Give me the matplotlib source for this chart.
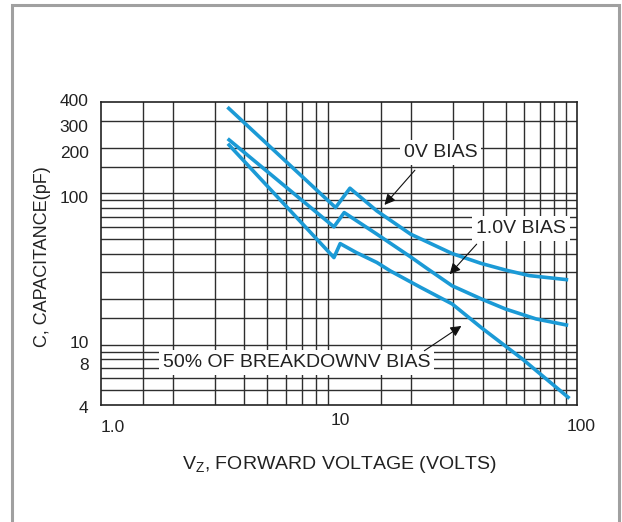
import matplotlib
matplotlib.use('Agg')
import numpy as np
import matplotlib.pyplot as plt
from matplotlib.patches import Rectangle
from matplotlib.transforms import ScaledTranslation

plt.rcParams['font.family'] = ['Liberation Sans', 'DejaVu Sans']

# capacitance curves (VZ in volts, C in pF)
vz_0v = [3.44, 9.66, 11.1, 14.4, 19.95, 29.8, 39.5, 50.0, 62.8, 90.0]
c_0v = [363, 80.4, 107.9, 76.4, 53.7, 40.0, 34.4, 31.1, 28.6, 26.9]
vz_1v = [3.45, 9.51, 10.5, 14.4, 19.95, 23.5, 29.8, 39.7, 50.0, 67.1, 90.0]
c_1v = [225, 60.0, 74.5, 53.7, 38.0, 31.7, 24.5, 20.0, 17.2, 14.8, 13.5]
vz_50 = [3.45, 9.51, 10.1, 11.8, 14.4, 16.4, 22.0, 29.8, 39.7, 58.8, 91.5]
c_50 = [208, 37.6, 46.5, 40.6, 34.9, 30.7, 23.9, 18.6, 12.9, 8.05, 4.5]

x_ticks = [1, 10, 100]
x_tick_labels = ['1.0', '10', '100']
x_grid = [1.5, 2, 3, 4, 5, 6, 7, 8, 9, 15, 20, 30, 40, 50, 60, 70, 80, 90]
y_ticks = [4, 8, 10, 100, 200, 300, 400]
y_tick_labels = ['4', '8', '10', '100', '200', '300', '400']
y_grid = [5, 6, 7, 8, 9, 10, 15, 20, 30, 40, 50, 60, 70, 80, 90, 100, 150, 200, 300]

blue = '#1b9ad6'
grid_c = '#2e2e2e'
text_c = '#222222'

fig = plt.figure(figsize=(6.22, 5.22), dpi=100)
ax = fig.add_axes([0.1624, 0.2241, 0.7657, 0.5805])
ax.set_xscale('log')
ax.set_yscale('log')
ax.set_xlim(1, 100)
ax.set_ylim(4, 400)

for v in x_grid:
    ax.axvline(v, color=grid_c, lw=1.0, zorder=1)
for v in y_grid:
    ax.axhline(v, color=grid_c, lw=1.0, zorder=1)

ax.plot(vz_0v, c_0v, color=blue, lw=2.6, zorder=3)
ax.plot(vz_1v, c_1v, color=blue, lw=2.6, zorder=3)
ax.plot(vz_50, c_50, color=blue, lw=2.6, zorder=3)

ax.xaxis.set_minor_locator(matplotlib.ticker.NullLocator())
ax.yaxis.set_minor_locator(matplotlib.ticker.NullLocator())
ax.set_xticks(x_ticks)
ax.set_xticklabels(x_tick_labels)
ax.set_yticks(y_ticks)
ax.set_yticklabels(y_tick_labels)
ax.tick_params(length=0, labelsize=12.5, colors=text_c)
ax.tick_params(axis='x', pad=6)
ax.tick_params(axis='y', pad=9)

# nudge tick labels like the original (inches)
xshifts = [(0.12, -0.07), (0.01, 0.0), (0.04, -0.06)]
for lab, (dx, dy) in zip(ax.get_xticklabels(), xshifts):
    lab.set_transform(lab.get_transform() + ScaledTranslation(dx, dy, fig.dpi_scale_trans))
yshifts = [-0.02, -0.05, 0.03, -0.04, -0.04, -0.05, 0.02]
for lab, dy in zip(ax.get_yticklabels(), yshifts):
    lab.set_transform(lab.get_transform() + ScaledTranslation(0, dy, fig.dpi_scale_trans))

for s in ax.spines.values():
    s.set_color(text_c)
    s.set_linewidth(1.2)

ax.set_ylabel('C, CAPACITANCE(pF)', fontsize=13, color=text_c)
ax.yaxis.set_label_coords(-0.106, 0.49)
ax.set_xlabel(r'V$_\mathregular{Z}$, FORWARD VOLTAGE (VOLTS)', fontsize=14, color=text_c)
ax.xaxis.set_label_coords(0.5, -0.16)

box = dict(boxstyle='square,pad=0.2', fc='white', ec='none')
ax.text(26.7, 185, '0V BIAS', fontsize=14, ha='center', va='center', bbox=box, zorder=4, color=text_c)
ax.text(58, 58.4, '1.0V BIAS', fontsize=14, ha='center', va='center', bbox=box, zorder=4, color=text_c)
ax.text(6.62, 7.64, '50% OF BREAKDOWNV BIAS', fontsize=14, ha='center', va='center', bbox=box, zorder=4, color=text_c)

arrow = dict(arrowstyle='-|>', color='#111111', lw=0.8, mutation_scale=16, shrinkA=0, shrinkB=0)
ax.annotate('', xy=(15.5, 83.7), xytext=(20.8, 141.8), arrowprops=arrow, zorder=5)
ax.annotate('', xy=(29.1, 29.2), xytext=(37.8, 46.1), arrowprops=arrow, zorder=5)
ax.annotate('', xy=(32.6, 13.3), xytext=(22.8, 9.13), arrowprops=arrow, zorder=5)

# grey frame around the figure
fig.patches.append(Rectangle((12 / 622, -0.1), 607 / 622, 1.0895, transform=fig.transFigure,
                             fill=False, ec='#a0a0a0', lw=2.2))

fig.savefig('out.png', dpi=100)
